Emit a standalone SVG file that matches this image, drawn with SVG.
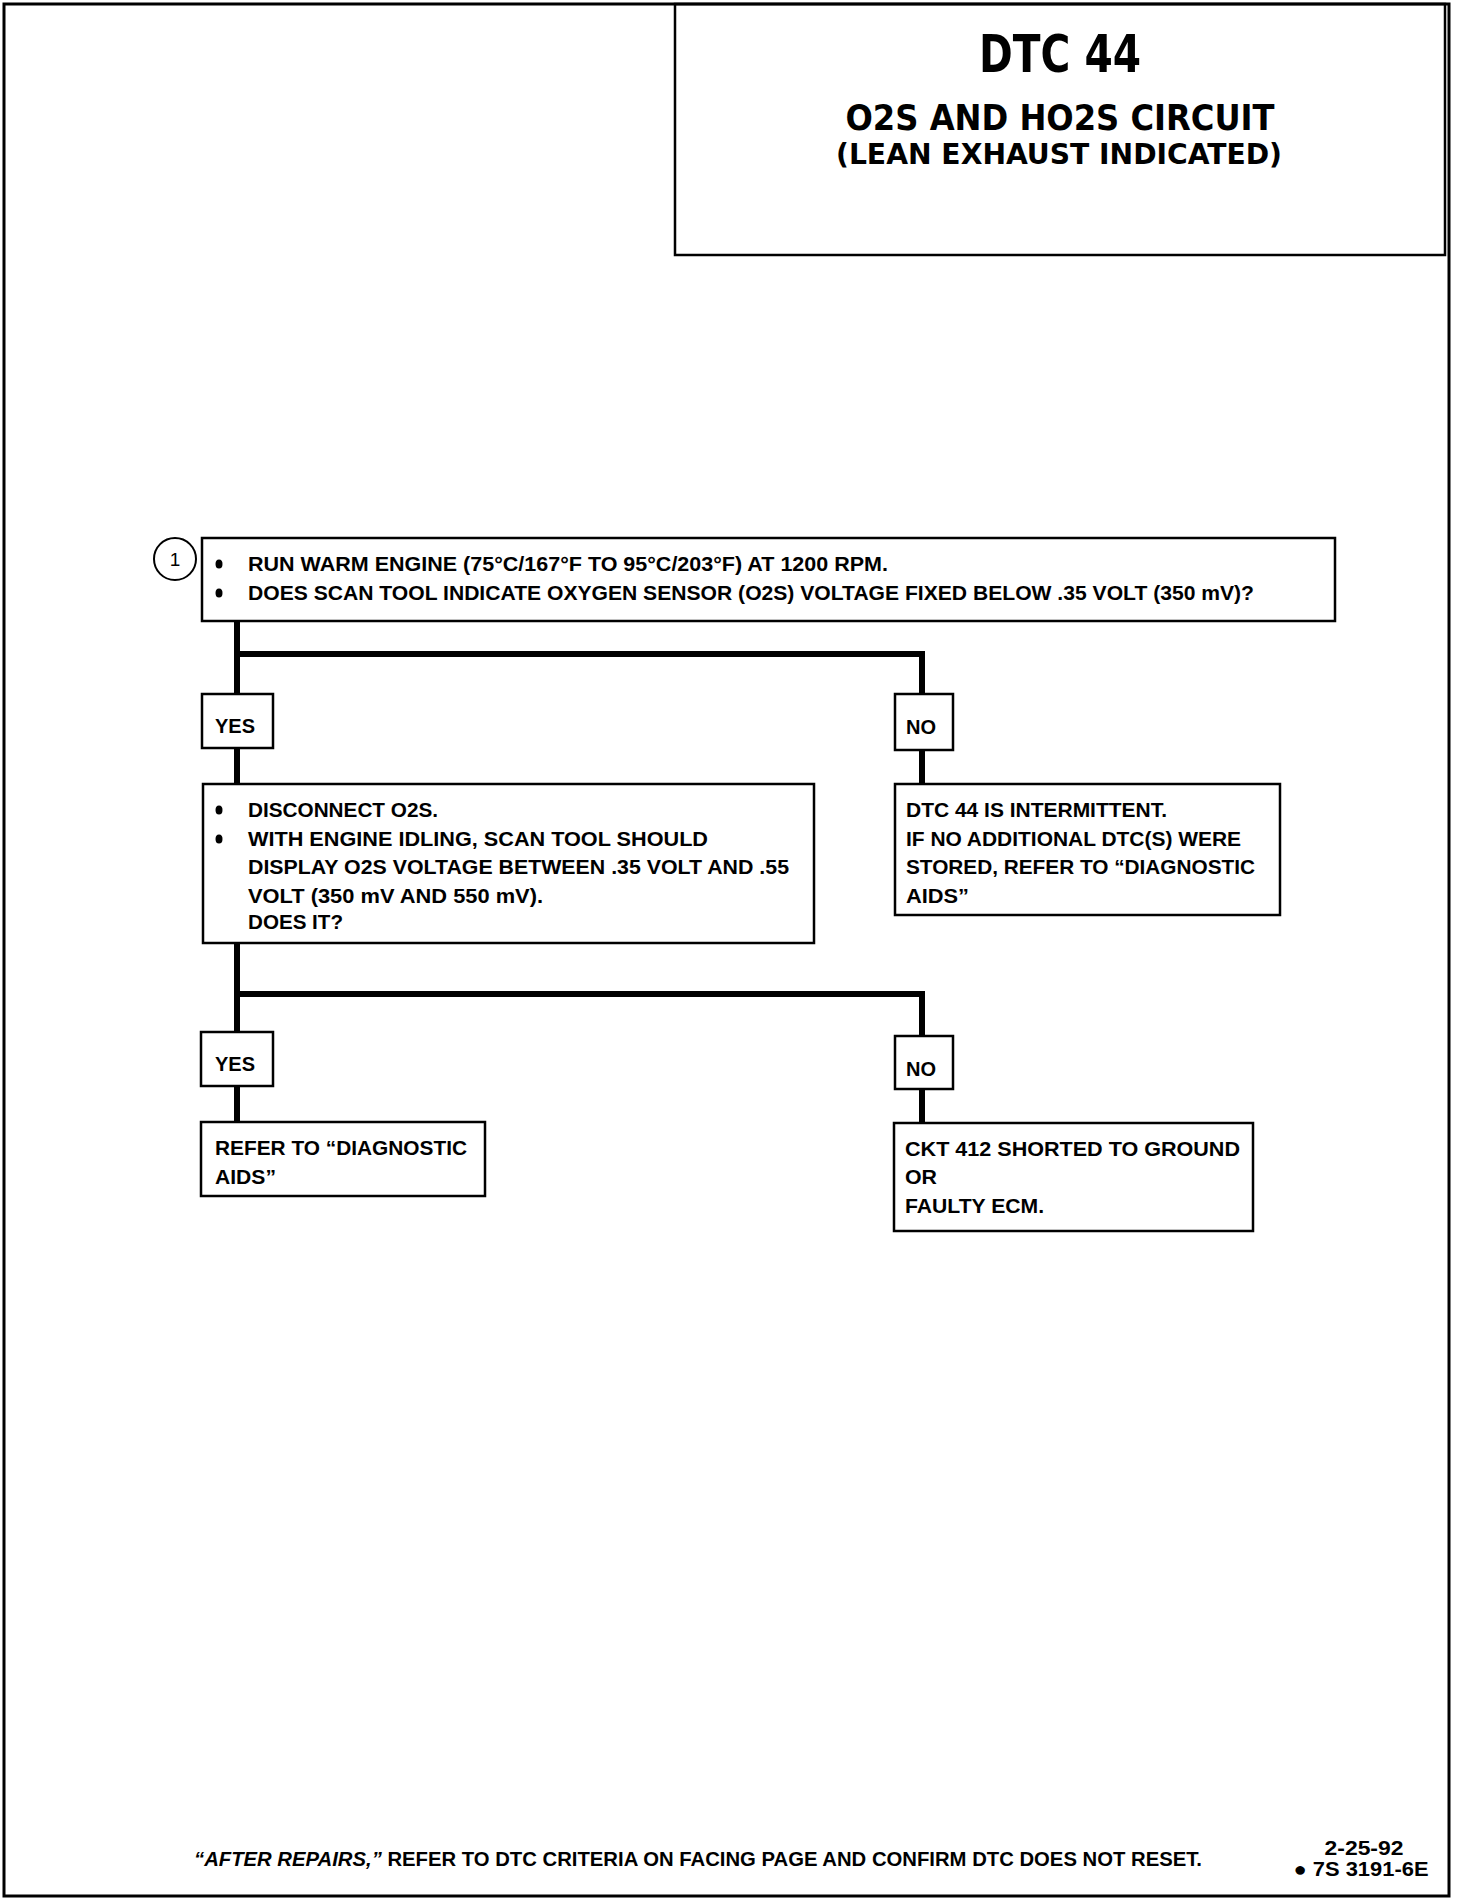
<svg xmlns="http://www.w3.org/2000/svg" width="1472" height="1900" viewBox="0 0 1472 1900">
<style>
.box{fill:#fff;stroke:#000;stroke-width:2.5}
.t{font-family:"Liberation Sans",Arial,sans-serif;font-weight:bold;font-size:20px;fill:#000}
.ti{font-family:"Liberation Sans Narrow","DejaVu Sans Condensed","Liberation Sans",sans-serif;font-weight:bold;fill:#000}
.c{fill:none;stroke:#000;stroke-width:6}
.b{fill:#000}
</style>
<rect x="0" y="0" width="1472" height="1900" fill="#fff"/>
<rect x="4" y="4" width="1445" height="1892" fill="none" stroke="#000" stroke-width="3"/>
<g id="title">
<rect x="675" y="4" width="770" height="251" fill="none" stroke="#000" stroke-width="2.5"/>
<text class="ti" x="1060" y="72" font-size="52" text-anchor="middle" textLength="162" lengthAdjust="spacingAndGlyphs">DTC 44</text>
<text class="ti" x="1060" y="130" font-size="36" text-anchor="middle" textLength="429" lengthAdjust="spacingAndGlyphs">O2S AND HO2S CIRCUIT</text>
<text class="ti" x="1059" y="164" font-size="28" text-anchor="middle" textLength="446" lengthAdjust="spacingAndGlyphs">(LEAN EXHAUST INDICATED)</text>
</g>
<g id="connectors">
<path class="c" d="M237 621 V694 M237 654 H922 V694 M237 748 V784 M922 750 V784"/>
<path class="c" d="M237 943 V1032 M237 994 H922 V1036 M237 1086 V1122 M922 1089 V1123"/>
</g>
<g id="step1">
<circle cx="175" cy="559" r="21" fill="#fff" stroke="#000" stroke-width="2"/>
<text x="175" y="566" font-family="Liberation Sans,Arial,sans-serif" font-size="19" text-anchor="middle">1</text>
<rect class="box" x="202" y="538" width="1133" height="83"/>
<ellipse class="b" cx="219" cy="564" rx="3.5" ry="4.5"/>
<ellipse class="b" cx="219" cy="593" rx="3.5" ry="4.5"/>
<text class="t" x="248" y="571" textLength="640" lengthAdjust="spacingAndGlyphs">RUN WARM ENGINE  (75°C/167°F TO 95°C/203°F)  AT 1200 RPM.</text>
<text class="t" x="248" y="600" textLength="1006" lengthAdjust="spacingAndGlyphs">DOES SCAN TOOL INDICATE OXYGEN SENSOR  (O2S) VOLTAGE FIXED BELOW .35 VOLT (350 mV)?</text>
</g>
<g id="yes1">
<rect class="box" x="202" y="694" width="71" height="54"/>
<text class="t" x="215" y="733" textLength="40" lengthAdjust="spacingAndGlyphs">YES</text>
</g>
<g id="no1">
<rect class="box" x="895" y="694" width="58" height="56"/>
<text class="t" x="906" y="734" textLength="30" lengthAdjust="spacingAndGlyphs">NO</text>
</g>
<g id="step2">
<rect class="box" x="203" y="784" width="611" height="159"/>
<ellipse class="b" cx="219" cy="810" rx="3.5" ry="4.5"/>
<ellipse class="b" cx="219" cy="839" rx="3.5" ry="4.5"/>
<text class="t" x="248" y="817" textLength="190" lengthAdjust="spacingAndGlyphs">DISCONNECT O2S.</text>
<text class="t" x="248" y="846" textLength="460" lengthAdjust="spacingAndGlyphs">WITH ENGINE IDLING,   SCAN TOOL  SHOULD</text>
<text class="t" x="248" y="874" textLength="541" lengthAdjust="spacingAndGlyphs">DISPLAY O2S  VOLTAGE BETWEEN .35 VOLT AND .55</text>
<text class="t" x="248" y="903" textLength="295" lengthAdjust="spacingAndGlyphs">VOLT (350 mV AND 550 mV).</text>
<text class="t" x="248" y="929" textLength="95" lengthAdjust="spacingAndGlyphs">DOES IT?</text>
</g>
<g id="intermittent">
<rect class="box" x="895" y="784" width="385" height="131"/>
<text class="t" x="906" y="817" textLength="261" lengthAdjust="spacingAndGlyphs">DTC 44 IS INTERMITTENT.</text>
<text class="t" x="906" y="846" textLength="335" lengthAdjust="spacingAndGlyphs">IF NO ADDITIONAL DTC(S) WERE</text>
<text class="t" x="906" y="874" textLength="349" lengthAdjust="spacingAndGlyphs">STORED, REFER TO  “DIAGNOSTIC</text>
<text class="t" x="906" y="903" textLength="63" lengthAdjust="spacingAndGlyphs">AIDS”</text>
</g>
<g id="yes2">
<rect class="box" x="201" y="1032" width="72" height="54"/>
<text class="t" x="215" y="1071" textLength="40" lengthAdjust="spacingAndGlyphs">YES</text>
</g>
<g id="no2">
<rect class="box" x="895" y="1036" width="58" height="53"/>
<text class="t" x="906" y="1076" textLength="30" lengthAdjust="spacingAndGlyphs">NO</text>
</g>
<g id="diagaids">
<rect class="box" x="201" y="1122" width="284" height="74"/>
<text class="t" x="215" y="1155" textLength="252" lengthAdjust="spacingAndGlyphs">REFER TO  “DIAGNOSTIC</text>
<text class="t" x="215" y="1184" textLength="61" lengthAdjust="spacingAndGlyphs">AIDS”</text>
</g>
<g id="ckt412">
<rect class="box" x="894" y="1123" width="359" height="108"/>
<text class="t" x="905" y="1156" textLength="335" lengthAdjust="spacingAndGlyphs">CKT 412  SHORTED TO GROUND</text>
<text class="t" x="905" y="1184" textLength="32" lengthAdjust="spacingAndGlyphs">OR</text>
<text class="t" x="905" y="1213" textLength="139" lengthAdjust="spacingAndGlyphs">FAULTY ECM.</text>
</g>
<g id="footer">
<text class="t" x="194" y="1866" textLength="1008" lengthAdjust="spacingAndGlyphs"><tspan font-style="italic">“AFTER REPAIRS,”</tspan> REFER TO DTC CRITERIA ON FACING PAGE AND CONFIRM DTC DOES NOT RESET.</text>
<text class="t" x="1364" y="1855" text-anchor="middle" textLength="79" lengthAdjust="spacingAndGlyphs">2-25-92</text>
<text class="t" x="1361" y="1876" text-anchor="middle" textLength="135" lengthAdjust="spacingAndGlyphs">● 7S 3191-6E</text>
</g>
</svg>
